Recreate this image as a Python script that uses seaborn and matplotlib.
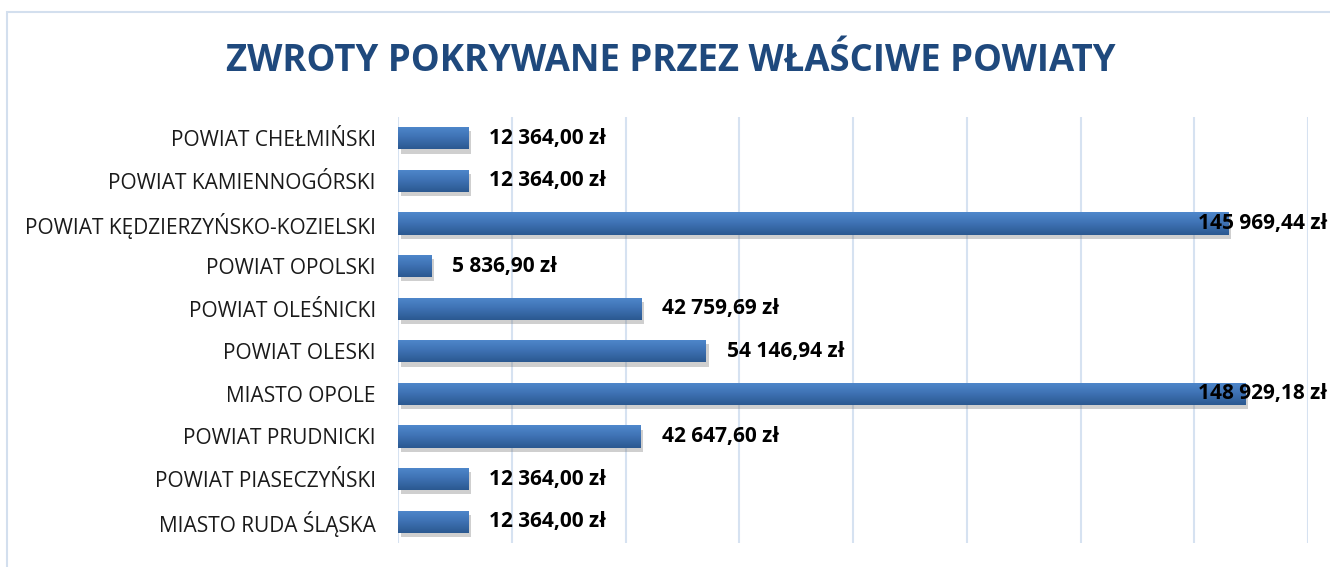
import numpy as np
import pandas as pd
import matplotlib
matplotlib.use("Agg")
import matplotlib.pyplot as plt
import matplotlib.patheffects as pe
from matplotlib.patches import Rectangle
from matplotlib.colors import LinearSegmentedColormap
import seaborn as sns

# Dane
powiaty = [
    "POWIAT CHEŁMIŃSKI",
    "POWIAT KAMIENNOGÓRSKI",
    "POWIAT KĘDZIERZYŃSKO-KOZIELSKI",
    "POWIAT OPOLSKI",
    "POWIAT OLEŚNICKI",
    "POWIAT OLESKI",
    "MIASTO OPOLE",
    "POWIAT PRUDNICKI",
    "POWIAT PIASECZYŃSKI",
    "MIASTO RUDA ŚLĄSKA",
]
kwoty = [12364.00, 12364.00, 145969.44, 5836.90, 42759.69,
         54146.94, 148929.18, 42647.60, 12364.00, 12364.00]
tytul = "ZWROTY POKRYWANE PRZEZ WŁAŚCIWE POWIATY"
x_max = 160000
x_krok = 20000

df = pd.DataFrame({"powiat": powiaty, "kwota": kwoty})


def fmt_zl(v):
    # format polski: spacja jako separator tysięcy, przecinek dziesiętny
    s = f"{v:,.2f}".replace(",", " ").replace(".", ",")
    return s + " zł"


sns.set_theme(style="white")
plt.rcParams['font.family'] = ['Open Sans', 'DejaVu Sans']

fig = plt.figure(figsize=(13.3, 5.67), dpi=100)
ax = fig.add_axes([398 / 1330, 1 - 543 / 567, 910 / 1330, 426 / 567])

sns.barplot(data=df, x="kwota", y="powiat", orient="h", width=0.52,
            color="#4a7ebb", ax=ax, zorder=3)

# gradient + cień na słupkach
cmap = LinearSegmentedColormap.from_list("bar", ["#4f88cc", "#3e71b3", "#2b5990"])
grad = np.linspace(0, 1, 64).reshape(-1, 1)
for p in ax.patches:
    p.set_edgecolor("none")
    p.set_path_effects([pe.SimplePatchShadow(offset=(2, -3), shadow_rgbFace="#777777",
                                             alpha=0.35), pe.Normal()])
    x0, y0 = p.get_x(), p.get_y()
    w, h = p.get_width(), p.get_height()
    im = ax.imshow(grad, cmap=cmap, aspect="auto", extent=(x0, x0 + w, y0 + h, y0),
                   zorder=4, interpolation="bicubic")
    im.set_clip_path(p)

ax.set_xlim(0, x_max)
ax.set_ylim(len(powiaty) - 0.5, -0.5)
ax.set_xticks(np.arange(0, x_max + 1, x_krok))
ax.set_xticklabels([])
ax.xaxis.grid(True, color="#d6e2f1", linewidth=1.5, zorder=0)
ax.yaxis.grid(False)
ax.tick_params(axis="x", length=0)
ax.tick_params(axis="y", length=0, pad=16, labelsize=15, labelcolor="#1a1a1a")
ax.set_xlabel("")
ax.set_ylabel("")
for s in ax.spines.values():
    s.set_visible(False)

# etykiety wartości
for i, v in enumerate(kwoty):
    if v / x_max > 0.85:
        ax.text(0.879, i, fmt_zl(v), transform=ax.get_yaxis_transform(),
                ha="left", va="center", fontsize=15, fontweight="bold",
                color="black", zorder=6, clip_on=False)
    else:
        ax.annotate(fmt_zl(v), xy=(v, i), xytext=(21, 0), textcoords="offset pixels",
                    ha="left", va="center", fontsize=15, fontweight="bold",
                    color="black", zorder=6)

# tytuł
fig.text(671 / 1330, 1 - 61 / 567, tytul, ha="center", va="center",
         fontsize=26.3, fontweight="bold", color="#1f497d")

# ramka wykresu
fig.patches.append(Rectangle((7 / 1330, -0.1), 2, 1.1 - 12 / 567, transform=fig.transFigure,
                             fill=False, edgecolor="#d3dfee", linewidth=1.5))

fig.savefig("out.png", dpi=100)
